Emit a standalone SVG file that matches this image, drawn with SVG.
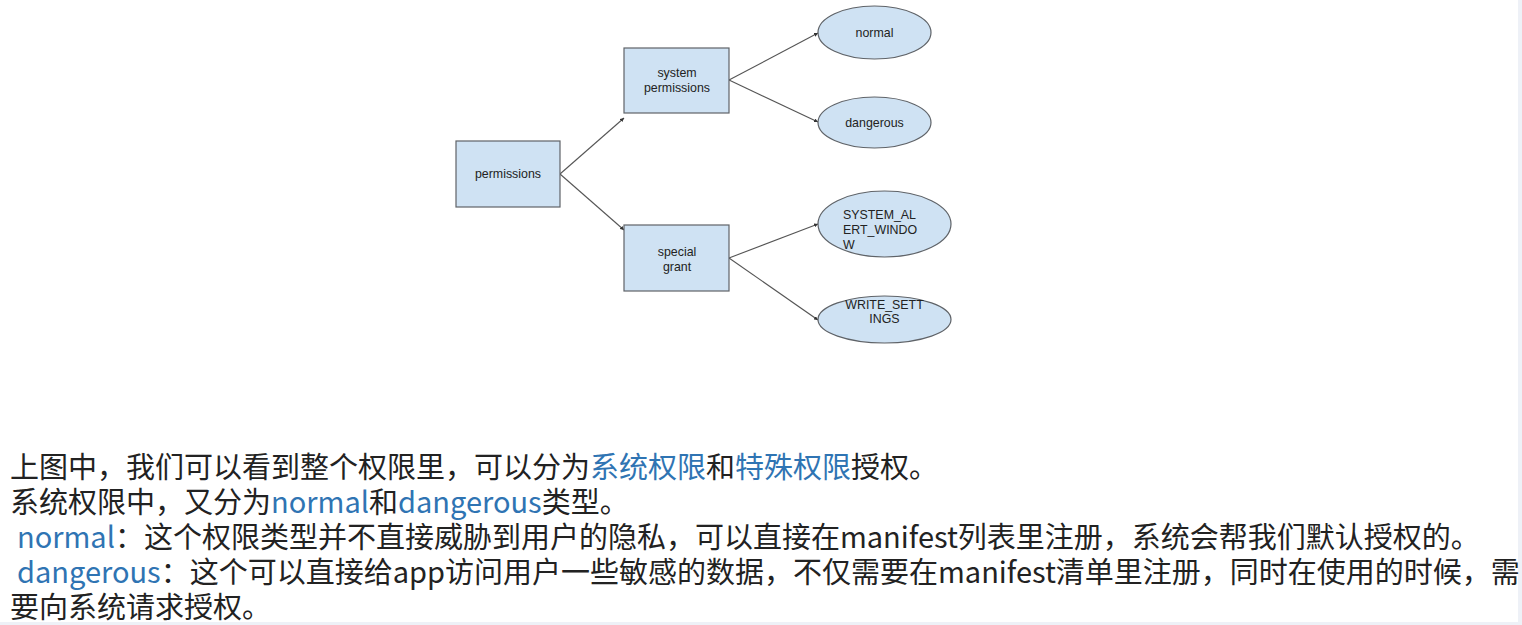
<svg xmlns="http://www.w3.org/2000/svg" width="1522" height="625" viewBox="0 0 1522 625">
<style>
.box{fill:#cfe2f3;stroke:#5f6368;stroke-width:1.2}
.ell{fill:#cfe2f3;stroke:#5f6368;stroke-width:1.2}
.lbl{font-family:"Liberation Sans",Arial,sans-serif;font-size:12.4px;fill:#222;text-anchor:middle}
.lbll{font-family:"Liberation Sans",Arial,sans-serif;font-size:12.4px;fill:#222}
.edge{stroke:#555;stroke-width:1.1;fill:none;marker-end:url(#arr)}
.t{font-family:"Noto Sans CJK SC","Noto Sans",sans-serif;font-size:29px;fill:#222}
.b{fill:#2f74b3}
</style>
<defs>
<marker id="arr" viewBox="0 0 10 10" refX="10" refY="5" markerWidth="4" markerHeight="4" orient="auto" markerUnits="userSpaceOnUse">
<path d="M0,0 L10,5 L0,10 z" fill="#333"/>
</marker>
</defs>
<rect x="0" y="0" width="1522" height="625" fill="#ffffff"/>
<rect x="1518" y="0" width="4" height="625" fill="#eef1f7"/>
<rect x="0" y="622" width="1522" height="3" fill="#eef1f7"/>
<g id="connectors">
<line class="edge" x1="560" y1="174" x2="624" y2="118"/>
<line class="edge" x1="560" y1="174" x2="624" y2="230"/>
<line class="edge" x1="729" y1="80" x2="818" y2="33"/>
<line class="edge" x1="729" y1="80" x2="818" y2="122"/>
<line class="edge" x1="729" y1="258" x2="818" y2="224"/>
<line class="edge" x1="729" y1="258" x2="818" y2="320"/>
</g>
<g id="node-permissions">
<rect class="box" x="456" y="141" width="104" height="66"/>
<text class="lbl" x="508" y="178">permissions</text>
</g>
<g id="node-system">
<rect class="box" x="624" y="48" width="105" height="65"/>
<text class="lbl" x="677" y="77">system</text>
<text class="lbl" x="677" y="92">permissions</text>
</g>
<g id="node-special">
<rect class="box" x="624" y="225" width="105" height="66"/>
<text class="lbl" x="677" y="256">special</text>
<text class="lbl" x="677" y="271">grant</text>
</g>
<g id="node-normal">
<ellipse class="ell" cx="874.5" cy="32.5" rx="56.5" ry="26.5"/>
<text class="lbl" x="874.5" y="37">normal</text>
</g>
<g id="node-dangerous">
<ellipse class="ell" cx="874.5" cy="122.5" rx="56.5" ry="25.5"/>
<text class="lbl" x="874.5" y="127">dangerous</text>
</g>
<g id="node-alert">
<ellipse class="ell" cx="884.5" cy="224" rx="66.5" ry="33"/>
<text class="lbll" x="843" y="219">SYSTEM_AL</text>
<text class="lbll" x="843" y="234">ERT_WINDO</text>
<text class="lbll" x="843" y="249">W</text>
</g>
<g id="node-write">
<ellipse class="ell" cx="884.5" cy="319.5" rx="66.5" ry="23.5"/>
<text class="lbl" x="884.5" y="309">WRITE_SETT</text>
<text class="lbl" x="884.5" y="323">INGS</text>
</g>
<g id="caption">
<text class="t" x="10" y="478">上图中，我们可以看到整个权限里，可以分为<tspan class="b">系统权限</tspan>和<tspan class="b">特殊权限</tspan>授权。</text>
<text class="t" x="10" y="513">系统权限中，又分为<tspan class="b">normal</tspan>和<tspan class="b">dangerous</tspan>类型。</text>
<text class="t" x="17" y="548"><tspan class="b">normal</tspan>：这个权限类型并不直接威胁到用户的隐私，可以直接在manifest列表里注册，系统会帮我们默认授权的。</text>
<text class="t" x="17" y="583"><tspan class="b">dangerous</tspan>：这个可以直接给app访问用户一些敏感的数据，不仅需要在manifest清单里注册，同时在使用的时候，需</text>
<text class="t" x="10" y="618">要向系统请求授权。</text>
</g>
</svg>
